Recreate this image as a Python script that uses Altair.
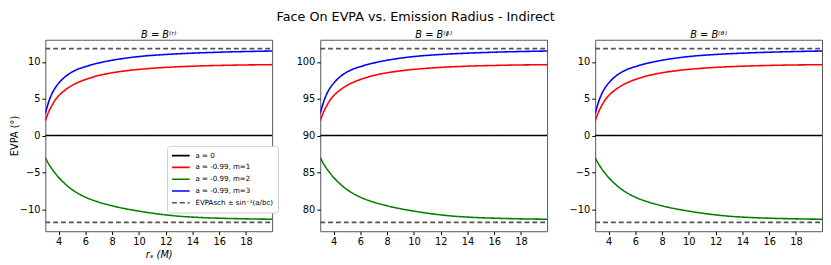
import altair as alt
import pandas as pd

# ---- data ----
r_s = [3, 3.25, 3.5, 3.75, 4, 4.5, 5, 5.5, 6, 7, 8, 9, 10, 11, 12, 13, 14, 15, 16, 17,
       18, 19, 19.95]
evpa_m1 = [2.0, 3.2, 4.1, 4.85, 5.4, 6.2, 6.8, 7.25, 7.6, 8.15, 8.52, 8.78, 8.98, 9.13,
           9.25, 9.34, 9.41, 9.47, 9.51, 9.55, 9.58, 9.6, 9.62]
evpa_m2 = [-3.0, -3.85, -4.55, -5.15, -5.7, -6.6, -7.35, -7.92, -8.38, -9.05, -9.55,
           -9.95, -10.27, -10.55, -10.78, -10.96, -11.08, -11.17, -11.23, -11.28, -11.32,
           -11.35, -11.37]
evpa_m3 = [3.0, 4.55, 5.7, 6.5, 7.1, 8.0, 8.62, 9.05, 9.35, 9.85, 10.22, 10.5, 10.72,
           10.88, 11.0, 11.1, 11.18, 11.25, 11.31, 11.36, 11.4, 11.44, 11.47]
evpa_a0 = 0.0
evpa_bound = 11.8

series_names = ["a = 0", "a = -0.99, m=1", "a = -0.99, m=2", "a = -0.99, m=3",
                "EVPAsch ± sin⁻¹(a/bc)"]
series_colors = ["#000000", "#ff0000", "#008000", "#0000ff", "#555555"]
series_dash = [[1, 0], [1, 0], [1, 0], [1, 0], [5, 3]]

panel_titles = ["B = B⁽ʳ⁾", "B = B⁽ᶲ⁾", "B = B⁽ᶿ⁾"]
panel_base = [0, 90, 0]
y_domains = [[-13, 13], [77, 103], [-13, 13]]
y_ticks = [[-10, -5, 0, 5, 10], [80, 85, 90, 95, 100], [-10, -5, 0, 5, 10]]
x_ticks = [4, 6, 8, 10, 12, 14, 16, 18]
x_domain = [3, 19.95]


def panel_frame(base):
    rows = []
    xs_full = [r_s[0], r_s[-1]]
    for x in xs_full:
        rows.append({"x": x, "y": base + evpa_a0, "series": series_names[0], "grp": "a0"})
    for name, vals, g in [(series_names[1], evpa_m1, "m1"),
                          (series_names[2], evpa_m2, "m2"),
                          (series_names[3], evpa_m3, "m3")]:
        for x, v in zip(r_s, vals):
            rows.append({"x": x, "y": base + v, "series": name, "grp": g})
    for sign, g in [(1, "up"), (-1, "dn")]:
        for x in xs_full:
            rows.append({"x": x, "y": base + sign * evpa_bound, "series": series_names[4], "grp": g})
    return pd.DataFrame(rows)


legend = alt.Legend(
    title=None, orient="none", legendX=124, legendY=108,
    symbolType="stroke", symbolSize=324, symbolStrokeWidth=1.6,
    labelFontSize=7.2, labelFont="DejaVu Sans", labelColor="#000",
    rowPadding=0, clipHeight=12, labelOffset=5, padding=4,
    fillColor="white", strokeColor="#cccccc", cornerRadius=3,
)

panels = []
for i in range(3):
    df = panel_frame(panel_base[i])
    leg = legend if i == 0 else None
    yaxis = alt.Axis(values=y_ticks[i], title="EVPA (°)" if i == 0 else None,
                     titlePadding=0)
    xaxis = alt.Axis(values=x_ticks, title="rₛ (M)" if i == 0 else None,
                     titleFontStyle="italic", titlePadding=3)
    ch = alt.Chart(df).mark_line(strokeWidth=1.6, interpolate="monotone", clip=True).encode(
        x=alt.X("x:Q", scale=alt.Scale(domain=x_domain, nice=False, zero=False), axis=xaxis),
        y=alt.Y("y:Q", scale=alt.Scale(domain=y_domains[i], nice=False, zero=False), axis=yaxis),
        color=alt.Color("series:N", scale=alt.Scale(domain=series_names, range=series_colors),
                        legend=leg, sort=series_names),
        strokeDash=alt.StrokeDash("series:N", scale=alt.Scale(domain=series_names, range=series_dash),
                                  legend=leg, sort=series_names),
        detail="grp:N",
    ).properties(
        width=231, height=195,
        title=alt.TitleParams(panel_titles[i], fontSize=10, fontWeight="normal",
                              fontStyle="italic", font="DejaVu Sans", offset=0, color="#000"),
    )
    panels.append(ch)

chart = alt.hconcat(
    *panels, spacing=49, bounds="flush",
    title=alt.TitleParams("Face On EVPA vs. Emission Radius - Indirect", fontSize=13,
                          fontWeight="normal", font="DejaVu Sans", anchor="middle",
                          offset=6, color="#000"),
).resolve_scale(
    x="independent", y="independent"
).resolve_legend(
    color="independent", strokeDash="independent"
).properties(
    padding=0
).configure_view(
    stroke="#555555", strokeWidth=1
).configure_axis(
    domain=False, grid=False, ticks=True, tickSize=3.5, tickColor="#000",
    labelFontSize=10, labelFont="DejaVu Sans", labelColor="#000", labelPadding=2,
    titleFontSize=10, titleFont="DejaVu Sans", titleFontWeight="normal", titleColor="#000",
)

chart.save("out.html", embed_options={"renderer": "svg", "actions": False})
